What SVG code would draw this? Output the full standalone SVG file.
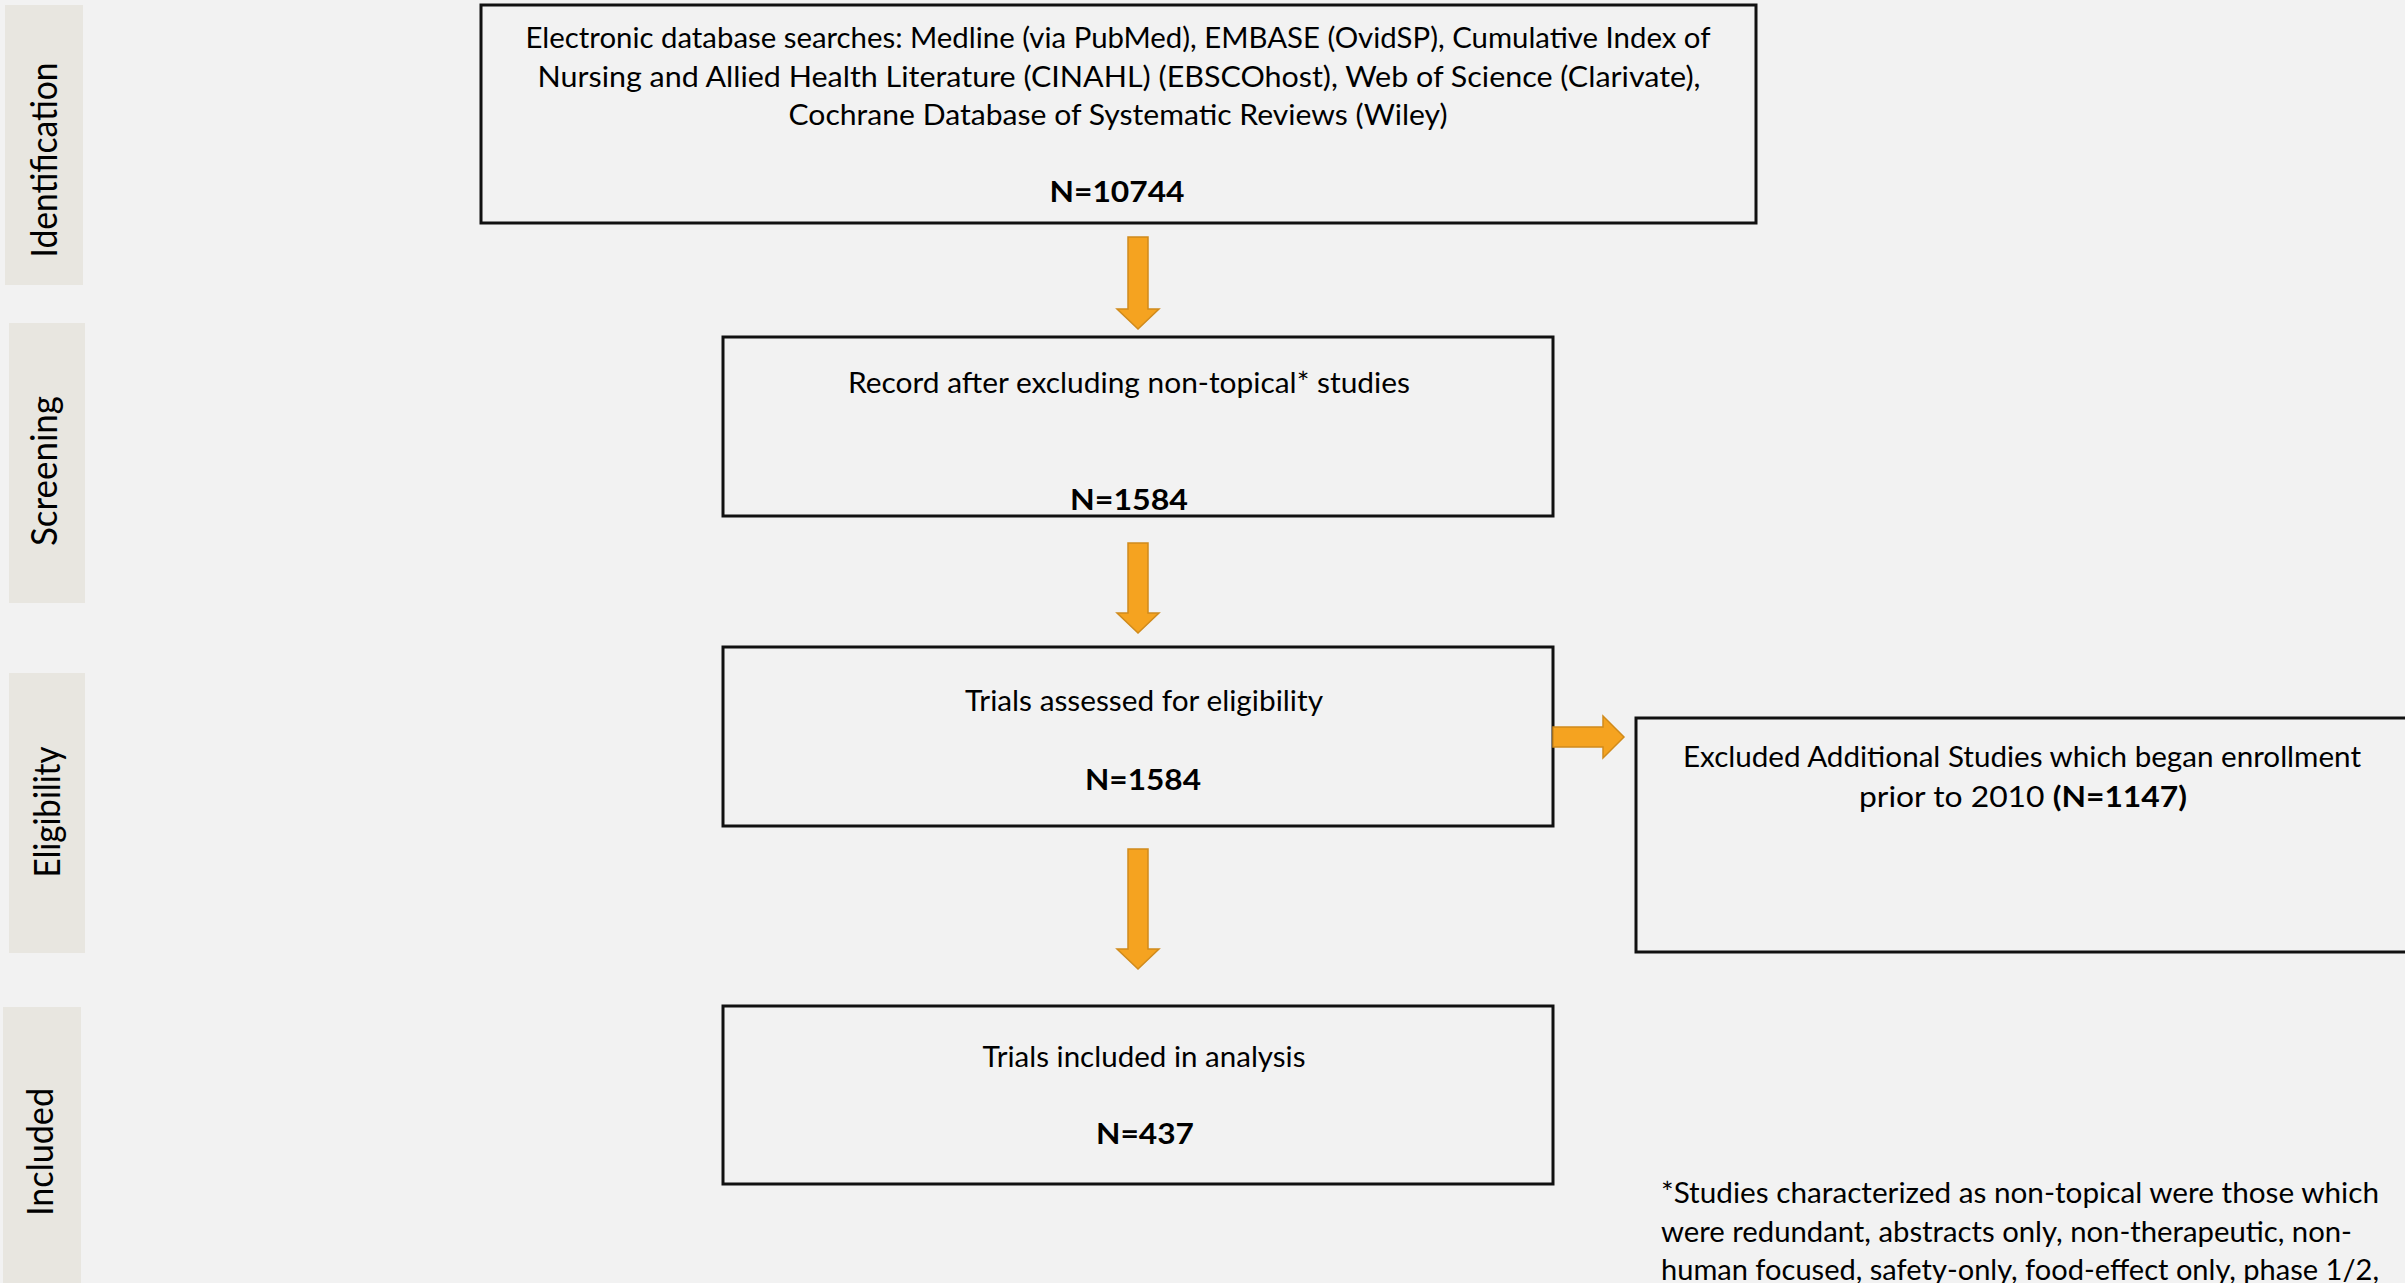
<svg xmlns="http://www.w3.org/2000/svg" width="2405" height="1283" viewBox="0 0 2405 1283">
<defs>
<style>
.bg{fill:#f2f2f2}
.phase{fill:#e8e6e0}
.ptxt{font-family:Lato,"Liberation Sans",sans-serif;font-size:37px;fill:#000;text-anchor:middle}
.box{fill:#f2f2f2;stroke:#111;stroke-width:3}
.t{font-family:Lato,"Liberation Sans",sans-serif;font-size:28px;fill:#000;text-anchor:middle}
.fn{font-family:Lato,"Liberation Sans",sans-serif;font-size:29px;fill:#000}
.b{font-weight:bold}
.arrow{fill:#f5a320;stroke:#d08b1c;stroke-width:1.5}
</style>
</defs>
<rect class="bg" x="0" y="0" width="2405" height="1283"/>

<g id="phase-identification">
<rect class="phase" x="5" y="5" width="78" height="280"/>
<text class="ptxt" transform="translate(57 160) rotate(-90)" x="0" y="0" textLength="195" lengthAdjust="spacingAndGlyphs">Identification</text>
</g>
<g id="phase-screening">
<rect class="phase" x="9" y="323" width="76" height="280"/>
<text class="ptxt" transform="translate(57 471) rotate(-90)" x="0" y="0" textLength="150" lengthAdjust="spacingAndGlyphs">Screening</text>
</g>
<g id="phase-eligibility">
<rect class="phase" x="9" y="673" width="76" height="280"/>
<text class="ptxt" transform="translate(60 812) rotate(-90)" x="0" y="0" textLength="131" lengthAdjust="spacingAndGlyphs">Eligibility</text>
</g>
<g id="phase-included">
<rect class="phase" x="3" y="1007" width="78" height="280"/>
<text class="ptxt" transform="translate(53 1152) rotate(-90)" x="0" y="0" textLength="128" lengthAdjust="spacingAndGlyphs">Included</text>
</g>

<g id="node-identification">
<rect class="box" x="481" y="5" width="1275" height="218"/>
<text class="t" x="1118" y="48" textLength="1185" lengthAdjust="spacingAndGlyphs">Electronic database searches: Medline (via PubMed), EMBASE (OvidSP), Cumulative Index of</text>
<text class="t" x="1119" y="87" textLength="1163" lengthAdjust="spacingAndGlyphs">Nursing and Allied Health Literature (CINAHL) (EBSCOhost), Web of Science (Clarivate),</text>
<text class="t" x="1118" y="125" textLength="659" lengthAdjust="spacingAndGlyphs">Cochrane Database of Systematic Reviews (Wiley)</text>
<text class="t b" x="1117" y="202" textLength="135" lengthAdjust="spacingAndGlyphs">N=10744</text>
</g>

<g id="node-screening">
<rect class="box" x="723" y="337" width="830" height="179"/>
<text class="t" x="1129" y="393" textLength="562" lengthAdjust="spacingAndGlyphs">Record after excluding non-topical* studies</text>
<text class="t b" x="1129" y="510" textLength="118" lengthAdjust="spacingAndGlyphs">N=1584</text>
</g>

<g id="node-eligibility">
<rect class="box" x="723" y="647" width="830" height="179"/>
<text class="t" x="1144" y="711" textLength="358" lengthAdjust="spacingAndGlyphs">Trials assessed for eligibility</text>
<text class="t b" x="1143" y="790" textLength="116" lengthAdjust="spacingAndGlyphs">N=1584</text>
</g>

<g id="node-included">
<rect class="box" x="723" y="1006" width="830" height="178"/>
<text class="t" x="1144" y="1067" textLength="323" lengthAdjust="spacingAndGlyphs">Trials included in analysis</text>
<text class="t b" x="1145" y="1144" textLength="98" lengthAdjust="spacingAndGlyphs">N=437</text>
</g>

<g id="node-excluded">
<rect class="box" x="1636" y="718" width="800" height="234"/>
<text class="t" x="2022" y="767" textLength="678" lengthAdjust="spacingAndGlyphs">Excluded Additional Studies which began enrollment</text>
<text class="t" x="2023" y="807" textLength="328" lengthAdjust="spacingAndGlyphs">prior to 2010 <tspan class="b">(N=1147)</tspan></text>
</g>

<g id="footnote">
<text class="fn" x="1661" y="1203" textLength="718" lengthAdjust="spacingAndGlyphs">*Studies characterized as non-topical were those which</text>
<text class="fn" x="1661" y="1242" textLength="691" lengthAdjust="spacingAndGlyphs">were redundant, abstracts only, non-therapeutic, non-</text>
<text class="fn" x="1661" y="1280" textLength="718" lengthAdjust="spacingAndGlyphs">human focused, safety-only, food-effect only, phase 1/2,</text>
</g>

<g id="connectors">
<path class="arrow" d="M1128,237 H1148 V309 H1159 L1138,329 L1117,309 H1128 Z"/>
<path class="arrow" d="M1128,543 H1148 V613 H1159 L1138,633 L1117,613 H1128 Z"/>
<path class="arrow" d="M1128,849 H1148 V949 H1159 L1138,969 L1117,949 H1128 Z"/>
<path class="arrow" d="M1553,727 H1603 V716 L1624,737 L1603,758 V747 H1553 Z"/>
</g>
</svg>
